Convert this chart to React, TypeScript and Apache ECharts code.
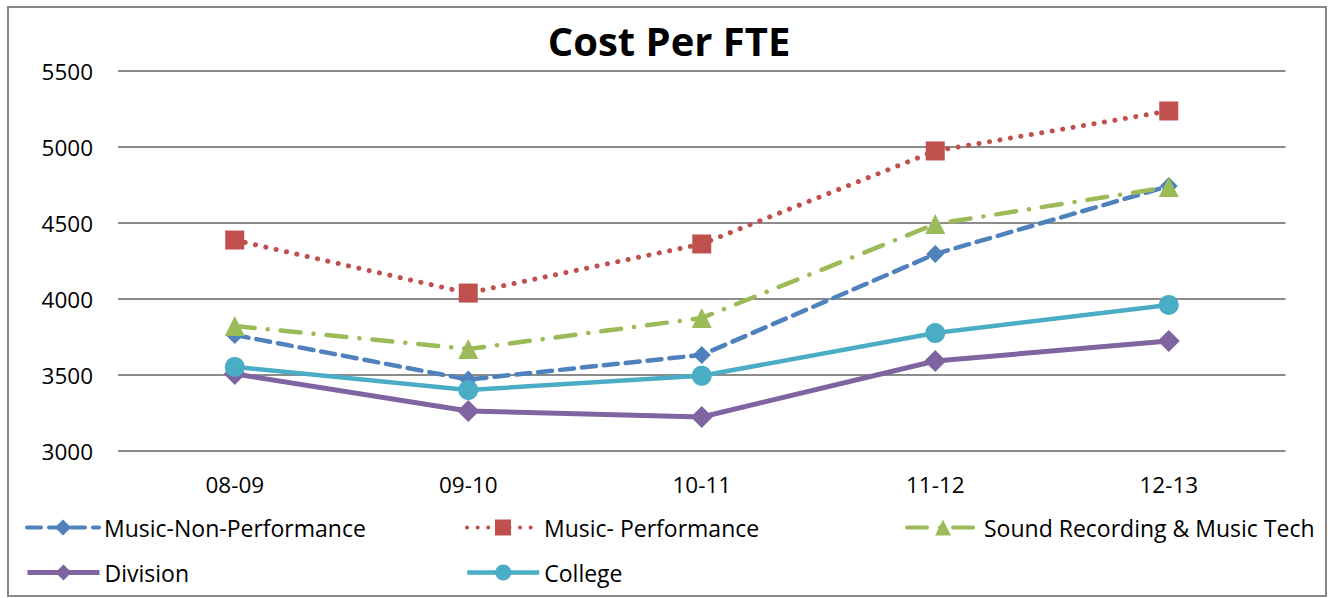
import React, { useEffect, useRef } from "react";
import * as echarts from "echarts";

const years = ["08-09", "09-10", "10-11", "11-12", "12-13"];
const yTicks = [3000, 3500, 4000, 4500, 5000, 5500];

const musicNonPerformance = [3763, 3470, 3632, 4296, 4743];
const musicPerformance = [4388, 4039, 4362, 4974, 5237];
const soundRecording = [3822, 3671, 3875, 4493, 4737];
const division = [3507, 3263, 3224, 3592, 3724];
const college = [3553, 3401, 3495, 3776, 3961];

const FONT = "'Open Sans', 'Noto Sans', sans-serif";

export default function App() {
  const ref = useRef<HTMLDivElement>(null);

  useEffect(() => {
    if (!ref.current) return;
    const chart = echarts.init(ref.current, undefined, { renderer: "svg" });

    const legendText = { fontFamily: FONT, fontSize: 23, color: "#000" };
    const mkLegend = (name: string, left: number, top: number, width: number) => ({
      show: true,
      data: [name],
      left,
      top,
      itemWidth: 72,
      itemHeight: 20,
      itemGap: 0,
      padding: 0,
      lineStyle: { width },
      textStyle: legendText,
    });

    chart.setOption({
      animation: false,
      backgroundColor: "#fff",
      title: {
        text: "Cost Per FTE",
        left: 664,
        top: 15,
        textAlign: "center",
        textStyle: { fontFamily: FONT, fontSize: 40, fontWeight: "bold", color: "#000" },
      },
      graphic: [
        {
          type: "rect",
          shape: { x: 8, y: 7, width: 1318, height: 589 },
          style: { fill: "none", stroke: "#878787", lineWidth: 2 },
          silent: true,
        },
      ],
      grid: { left: 118, right: 47.5, top: 71, bottom: 147, containLabel: false },
      xAxis: {
        type: "category",
        data: years,
        boundaryGap: true,
        axisLine: { show: false },
        axisTick: { show: false },
        axisLabel: { fontFamily: FONT, fontSize: 22.5, color: "#000", margin: 22 },
      },
      yAxis: {
        type: "value",
        min: yTicks[0],
        max: yTicks[yTicks.length - 1],
        interval: 500,
        axisLine: { show: false },
        axisTick: { show: false },
        axisLabel: {
          fontFamily: FONT,
          fontSize: 22.5,
          color: "#000",
          margin: 25,
          formatter: (v: number) => String(v),
        },
        splitLine: { lineStyle: { color: "#8c8c8c", width: 2 } },
      },
      legend: [
        mkLegend("Music-Non-Performance", 25, 516, 4),
        mkLegend("Music- Performance", 465, 516, 4),
        mkLegend("Sound Recording & Music Tech", 905, 516, 4),
        mkLegend("Division", 25, 561, 5),
        mkLegend("College", 465, 561, 4.5),
      ],
      series: [
        {
          name: "Music-Non-Performance",
          type: "line",
          data: musicNonPerformance,
          color: "#4F81BD",
          symbol: "diamond",
          symbolSize: 18,
          lineStyle: { width: 4.5, type: [14, 8], cap: "round" },
        },
        {
          name: "Music- Performance",
          type: "line",
          data: musicPerformance,
          color: "#C0504D",
          symbol: "rect",
          symbolSize: 19,
          lineStyle: { width: 5, type: [0.1, 10.5], cap: "round" },
        },
        {
          name: "Sound Recording & Music Tech",
          type: "line",
          data: soundRecording,
          color: "#9BBB59",
          symbol: "triangle",
          symbolSize: 20,
          lineStyle: { width: 4.5, type: [20, 13, 0.1, 13], cap: "round" },
        },
        {
          name: "Division",
          type: "line",
          data: division,
          color: "#8064A2",
          symbol: "diamond",
          symbolSize: 22,
          lineStyle: { width: 5 },
        },
        {
          name: "College",
          type: "line",
          data: college,
          color: "#4BACC6",
          symbol: "circle",
          symbolSize: 20,
          lineStyle: { width: 4.5 },
        },
      ],
    });

    return () => chart.dispose();
  }, []);

  return (
    <div
      ref={ref}
      style={{ position: "absolute", left: 0, top: 0, width: 1333, height: 598 }}
    />
  );
}
